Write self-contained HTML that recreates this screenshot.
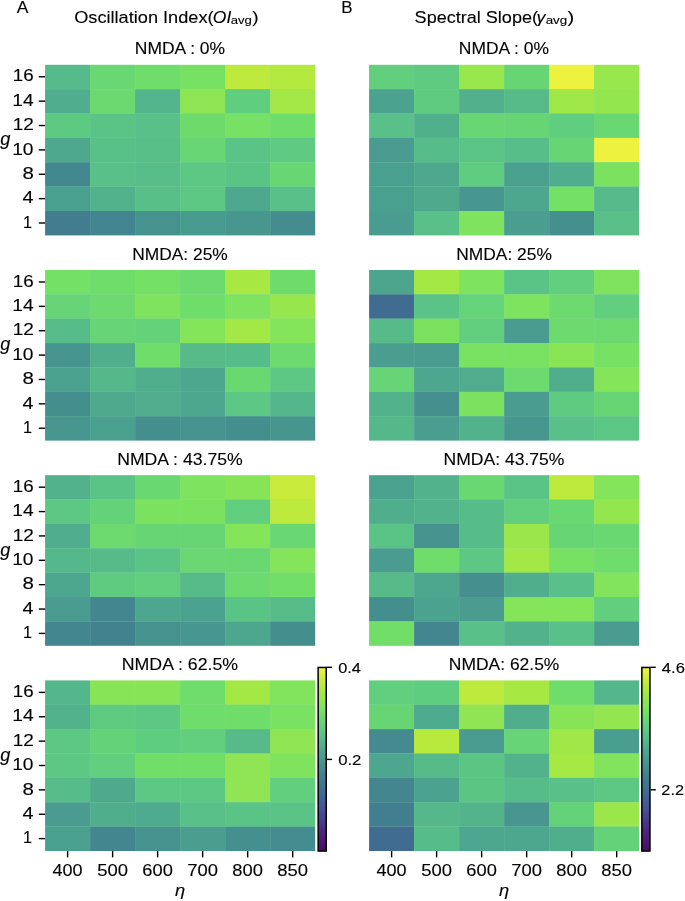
<!DOCTYPE html>
<html><head><meta charset="utf-8"><title>fig</title>
<style>html,body{margin:0;padding:0;background:#fff}svg{display:block}text{font-family:"Liberation Sans",sans-serif;fill:#000;stroke:#000;stroke-width:0.12px}</style></head><body>
<svg width="685" height="901" viewBox="0 0 685 901">
<rect x="0" y="0" width="685" height="901" fill="#fff"/>
<rect x="45.70" y="65.40" width="268.90" height="169.40" fill="#98dcb2"/>
<rect x="45.10" y="64.80" width="45.02" height="24.37" fill="#56bb8a"/>
<rect x="90.12" y="64.80" width="45.02" height="24.37" fill="#69d772"/>
<rect x="135.13" y="64.80" width="45.02" height="24.37" fill="#6fdd6a"/>
<rect x="180.15" y="64.80" width="45.02" height="24.37" fill="#76e163"/>
<rect x="225.17" y="64.80" width="45.02" height="24.37" fill="#bdea3c"/>
<rect x="270.18" y="64.80" width="45.02" height="24.37" fill="#b4e93f"/>
<rect x="45.10" y="89.17" width="45.02" height="24.37" fill="#50ad8d"/>
<rect x="90.12" y="89.17" width="45.02" height="24.37" fill="#6bd96f"/>
<rect x="135.13" y="89.17" width="45.02" height="24.37" fill="#53b58b"/>
<rect x="180.15" y="89.17" width="45.02" height="24.37" fill="#8ee553"/>
<rect x="225.17" y="89.17" width="45.02" height="24.37" fill="#60ce7f"/>
<rect x="270.18" y="89.17" width="45.02" height="24.37" fill="#a3e846"/>
<rect x="45.10" y="113.54" width="45.02" height="24.37" fill="#5dca82"/>
<rect x="90.12" y="113.54" width="45.02" height="24.37" fill="#5ac486"/>
<rect x="135.13" y="113.54" width="45.02" height="24.37" fill="#58c088"/>
<rect x="180.15" y="113.54" width="45.02" height="24.37" fill="#6ddb6c"/>
<rect x="225.17" y="113.54" width="45.02" height="24.37" fill="#76e164"/>
<rect x="270.18" y="113.54" width="45.02" height="24.37" fill="#6fdd69"/>
<rect x="45.10" y="137.91" width="45.02" height="24.37" fill="#4ea88d"/>
<rect x="90.12" y="137.91" width="45.02" height="24.37" fill="#58c187"/>
<rect x="135.13" y="137.91" width="45.02" height="24.37" fill="#58bf88"/>
<rect x="180.15" y="137.91" width="45.02" height="24.37" fill="#68d674"/>
<rect x="225.17" y="137.91" width="45.02" height="24.37" fill="#5ac386"/>
<rect x="270.18" y="137.91" width="45.02" height="24.37" fill="#5eca82"/>
<rect x="45.10" y="162.29" width="45.02" height="24.37" fill="#43878f"/>
<rect x="90.12" y="162.29" width="45.02" height="24.37" fill="#58c088"/>
<rect x="135.13" y="162.29" width="45.02" height="24.37" fill="#57bd89"/>
<rect x="180.15" y="162.29" width="45.02" height="24.37" fill="#5cc883"/>
<rect x="225.17" y="162.29" width="45.02" height="24.37" fill="#5ac485"/>
<rect x="270.18" y="162.29" width="45.02" height="24.37" fill="#68d673"/>
<rect x="45.10" y="186.66" width="45.02" height="24.37" fill="#4aa08e"/>
<rect x="90.12" y="186.66" width="45.02" height="24.37" fill="#52b28c"/>
<rect x="135.13" y="186.66" width="45.02" height="24.37" fill="#58bf88"/>
<rect x="180.15" y="186.66" width="45.02" height="24.37" fill="#5cc883"/>
<rect x="225.17" y="186.66" width="45.02" height="24.37" fill="#4ea88d"/>
<rect x="270.18" y="186.66" width="45.02" height="24.37" fill="#58c088"/>
<rect x="45.10" y="211.03" width="45.02" height="24.37" fill="#417c8f"/>
<rect x="90.12" y="211.03" width="45.02" height="24.37" fill="#42848f"/>
<rect x="135.13" y="211.03" width="45.02" height="24.37" fill="#46928e"/>
<rect x="180.15" y="211.03" width="45.02" height="24.37" fill="#489b8f"/>
<rect x="225.17" y="211.03" width="45.02" height="24.37" fill="#47978f"/>
<rect x="270.18" y="211.03" width="45.02" height="24.37" fill="#448c8e"/>
<rect x="369.70" y="65.40" width="268.90" height="169.40" fill="#98dcb2"/>
<rect x="369.10" y="64.80" width="45.02" height="24.37" fill="#61cf7e"/>
<rect x="414.12" y="64.80" width="45.02" height="24.37" fill="#5ecb81"/>
<rect x="459.13" y="64.80" width="45.02" height="24.37" fill="#98e74c"/>
<rect x="504.15" y="64.80" width="45.02" height="24.37" fill="#67d574"/>
<rect x="549.17" y="64.80" width="45.02" height="24.37" fill="#ecf23e"/>
<rect x="594.18" y="64.80" width="45.02" height="24.37" fill="#98e74c"/>
<rect x="369.10" y="89.17" width="45.02" height="24.37" fill="#4ba28e"/>
<rect x="414.12" y="89.17" width="45.02" height="24.37" fill="#5ecb81"/>
<rect x="459.13" y="89.17" width="45.02" height="24.37" fill="#52b18c"/>
<rect x="504.15" y="89.17" width="45.02" height="24.37" fill="#56bb89"/>
<rect x="549.17" y="89.17" width="45.02" height="24.37" fill="#a0e748"/>
<rect x="594.18" y="89.17" width="45.02" height="24.37" fill="#94e64f"/>
<rect x="369.10" y="113.54" width="45.02" height="24.37" fill="#58c088"/>
<rect x="414.12" y="113.54" width="45.02" height="24.37" fill="#51b08c"/>
<rect x="459.13" y="113.54" width="45.02" height="24.37" fill="#68d673"/>
<rect x="504.15" y="113.54" width="45.02" height="24.37" fill="#67d574"/>
<rect x="549.17" y="113.54" width="45.02" height="24.37" fill="#60ce7f"/>
<rect x="594.18" y="113.54" width="45.02" height="24.37" fill="#69d772"/>
<rect x="369.10" y="137.91" width="45.02" height="24.37" fill="#499c8f"/>
<rect x="414.12" y="137.91" width="45.02" height="24.37" fill="#56bc89"/>
<rect x="459.13" y="137.91" width="45.02" height="24.37" fill="#5bc585"/>
<rect x="504.15" y="137.91" width="45.02" height="24.37" fill="#57be89"/>
<rect x="549.17" y="137.91" width="45.02" height="24.37" fill="#67d574"/>
<rect x="594.18" y="137.91" width="45.02" height="24.37" fill="#ecf23e"/>
<rect x="369.10" y="162.29" width="45.02" height="24.37" fill="#4aa08e"/>
<rect x="414.12" y="162.29" width="45.02" height="24.37" fill="#4ea88d"/>
<rect x="459.13" y="162.29" width="45.02" height="24.37" fill="#5fcd7f"/>
<rect x="504.15" y="162.29" width="45.02" height="24.37" fill="#4aa08e"/>
<rect x="549.17" y="162.29" width="45.02" height="24.37" fill="#50ad8d"/>
<rect x="594.18" y="162.29" width="45.02" height="24.37" fill="#7be260"/>
<rect x="369.10" y="186.66" width="45.02" height="24.37" fill="#4aa08e"/>
<rect x="414.12" y="186.66" width="45.02" height="24.37" fill="#4ea98d"/>
<rect x="459.13" y="186.66" width="45.02" height="24.37" fill="#47968f"/>
<rect x="504.15" y="186.66" width="45.02" height="24.37" fill="#4da68e"/>
<rect x="549.17" y="186.66" width="45.02" height="24.37" fill="#74e065"/>
<rect x="594.18" y="186.66" width="45.02" height="24.37" fill="#56ba8a"/>
<rect x="369.10" y="211.03" width="45.02" height="24.37" fill="#499c8f"/>
<rect x="414.12" y="211.03" width="45.02" height="24.37" fill="#58c088"/>
<rect x="459.13" y="211.03" width="45.02" height="24.37" fill="#80e35d"/>
<rect x="504.15" y="211.03" width="45.02" height="24.37" fill="#4a9e8f"/>
<rect x="549.17" y="211.03" width="45.02" height="24.37" fill="#45908e"/>
<rect x="594.18" y="211.03" width="45.02" height="24.37" fill="#58c088"/>
<line x1="38.80" y1="76.79" x2="45.10" y2="76.79" stroke="#000" stroke-width="1.4"/>
<line x1="38.80" y1="101.16" x2="45.10" y2="101.16" stroke="#000" stroke-width="1.4"/>
<line x1="38.80" y1="125.53" x2="45.10" y2="125.53" stroke="#000" stroke-width="1.4"/>
<line x1="38.80" y1="149.90" x2="45.10" y2="149.90" stroke="#000" stroke-width="1.4"/>
<line x1="38.80" y1="174.27" x2="45.10" y2="174.27" stroke="#000" stroke-width="1.4"/>
<line x1="38.80" y1="198.64" x2="45.10" y2="198.64" stroke="#000" stroke-width="1.4"/>
<line x1="38.80" y1="223.01" x2="45.10" y2="223.01" stroke="#000" stroke-width="1.4"/>
<rect x="45.70" y="270.60" width="268.90" height="169.40" fill="#98dcb2"/>
<rect x="45.10" y="270.00" width="45.02" height="24.37" fill="#74e065"/>
<rect x="90.12" y="270.00" width="45.02" height="24.37" fill="#6fdd69"/>
<rect x="135.13" y="270.00" width="45.02" height="24.37" fill="#74e065"/>
<rect x="180.15" y="270.00" width="45.02" height="24.37" fill="#6cda6e"/>
<rect x="225.17" y="270.00" width="45.02" height="24.37" fill="#a8e843"/>
<rect x="270.18" y="270.00" width="45.02" height="24.37" fill="#6edc6b"/>
<rect x="45.10" y="294.37" width="45.02" height="24.37" fill="#66d477"/>
<rect x="90.12" y="294.37" width="45.02" height="24.37" fill="#6cda6e"/>
<rect x="135.13" y="294.37" width="45.02" height="24.37" fill="#7fe35e"/>
<rect x="180.15" y="294.37" width="45.02" height="24.37" fill="#6fdd69"/>
<rect x="225.17" y="294.37" width="45.02" height="24.37" fill="#7ee35f"/>
<rect x="270.18" y="294.37" width="45.02" height="24.37" fill="#97e64d"/>
<rect x="45.10" y="318.74" width="45.02" height="24.37" fill="#56bc89"/>
<rect x="90.12" y="318.74" width="45.02" height="24.37" fill="#66d477"/>
<rect x="135.13" y="318.74" width="45.02" height="24.37" fill="#64d279"/>
<rect x="180.15" y="318.74" width="45.02" height="24.37" fill="#84e45a"/>
<rect x="225.17" y="318.74" width="45.02" height="24.37" fill="#a2e846"/>
<rect x="270.18" y="318.74" width="45.02" height="24.37" fill="#84e45a"/>
<rect x="45.10" y="343.11" width="45.02" height="24.37" fill="#47958f"/>
<rect x="90.12" y="343.11" width="45.02" height="24.37" fill="#50ae8d"/>
<rect x="135.13" y="343.11" width="45.02" height="24.37" fill="#6fdd69"/>
<rect x="180.15" y="343.11" width="45.02" height="24.37" fill="#56bb89"/>
<rect x="225.17" y="343.11" width="45.02" height="24.37" fill="#56bc89"/>
<rect x="270.18" y="343.11" width="45.02" height="24.37" fill="#6cda6e"/>
<rect x="45.10" y="367.49" width="45.02" height="24.37" fill="#4ba28e"/>
<rect x="90.12" y="367.49" width="45.02" height="24.37" fill="#54b88a"/>
<rect x="135.13" y="367.49" width="45.02" height="24.37" fill="#50ae8d"/>
<rect x="180.15" y="367.49" width="45.02" height="24.37" fill="#4da78e"/>
<rect x="225.17" y="367.49" width="45.02" height="24.37" fill="#6ad870"/>
<rect x="270.18" y="367.49" width="45.02" height="24.37" fill="#5cc883"/>
<rect x="45.10" y="391.86" width="45.02" height="24.37" fill="#458e8e"/>
<rect x="90.12" y="391.86" width="45.02" height="24.37" fill="#4ea98d"/>
<rect x="135.13" y="391.86" width="45.02" height="24.37" fill="#50ac8d"/>
<rect x="180.15" y="391.86" width="45.02" height="24.37" fill="#4da78e"/>
<rect x="225.17" y="391.86" width="45.02" height="24.37" fill="#5cc784"/>
<rect x="270.18" y="391.86" width="45.02" height="24.37" fill="#54b68b"/>
<rect x="45.10" y="416.23" width="45.02" height="24.37" fill="#47968f"/>
<rect x="90.12" y="416.23" width="45.02" height="24.37" fill="#4aa08e"/>
<rect x="135.13" y="416.23" width="45.02" height="24.37" fill="#458e8e"/>
<rect x="180.15" y="416.23" width="45.02" height="24.37" fill="#46928e"/>
<rect x="225.17" y="416.23" width="45.02" height="24.37" fill="#458e8e"/>
<rect x="270.18" y="416.23" width="45.02" height="24.37" fill="#47958f"/>
<rect x="369.70" y="270.60" width="268.90" height="169.40" fill="#98dcb2"/>
<rect x="369.10" y="270.00" width="45.02" height="24.37" fill="#4da58e"/>
<rect x="414.12" y="270.00" width="45.02" height="24.37" fill="#a4e845"/>
<rect x="459.13" y="270.00" width="45.02" height="24.37" fill="#7ee35f"/>
<rect x="504.15" y="270.00" width="45.02" height="24.37" fill="#5ac486"/>
<rect x="549.17" y="270.00" width="45.02" height="24.37" fill="#61cf7d"/>
<rect x="594.18" y="270.00" width="45.02" height="24.37" fill="#80e35d"/>
<rect x="369.10" y="294.37" width="45.02" height="24.37" fill="#406c91"/>
<rect x="414.12" y="294.37" width="45.02" height="24.37" fill="#5ac386"/>
<rect x="459.13" y="294.37" width="45.02" height="24.37" fill="#65d377"/>
<rect x="504.15" y="294.37" width="45.02" height="24.37" fill="#7ee35f"/>
<rect x="549.17" y="294.37" width="45.02" height="24.37" fill="#6cda6e"/>
<rect x="594.18" y="294.37" width="45.02" height="24.37" fill="#61cf7d"/>
<rect x="369.10" y="318.74" width="45.02" height="24.37" fill="#56bb89"/>
<rect x="414.12" y="318.74" width="45.02" height="24.37" fill="#7be260"/>
<rect x="459.13" y="318.74" width="45.02" height="24.37" fill="#61cf7d"/>
<rect x="504.15" y="318.74" width="45.02" height="24.37" fill="#499c8f"/>
<rect x="549.17" y="318.74" width="45.02" height="24.37" fill="#6cda6e"/>
<rect x="594.18" y="318.74" width="45.02" height="24.37" fill="#6cda6e"/>
<rect x="369.10" y="343.11" width="45.02" height="24.37" fill="#4a9e8f"/>
<rect x="414.12" y="343.11" width="45.02" height="24.37" fill="#499c8f"/>
<rect x="459.13" y="343.11" width="45.02" height="24.37" fill="#79e262"/>
<rect x="504.15" y="343.11" width="45.02" height="24.37" fill="#79e262"/>
<rect x="549.17" y="343.11" width="45.02" height="24.37" fill="#8ae556"/>
<rect x="594.18" y="343.11" width="45.02" height="24.37" fill="#76e163"/>
<rect x="369.10" y="367.49" width="45.02" height="24.37" fill="#66d477"/>
<rect x="414.12" y="367.49" width="45.02" height="24.37" fill="#4da78e"/>
<rect x="459.13" y="367.49" width="45.02" height="24.37" fill="#50ac8d"/>
<rect x="504.15" y="367.49" width="45.02" height="24.37" fill="#6cda6e"/>
<rect x="549.17" y="367.49" width="45.02" height="24.37" fill="#50ae8d"/>
<rect x="594.18" y="367.49" width="45.02" height="24.37" fill="#84e45a"/>
<rect x="369.10" y="391.86" width="45.02" height="24.37" fill="#52b28c"/>
<rect x="414.12" y="391.86" width="45.02" height="24.37" fill="#45908e"/>
<rect x="459.13" y="391.86" width="45.02" height="24.37" fill="#7be260"/>
<rect x="504.15" y="391.86" width="45.02" height="24.37" fill="#499c8f"/>
<rect x="549.17" y="391.86" width="45.02" height="24.37" fill="#5ecb81"/>
<rect x="594.18" y="391.86" width="45.02" height="24.37" fill="#67d574"/>
<rect x="369.10" y="416.23" width="45.02" height="24.37" fill="#54b88a"/>
<rect x="414.12" y="416.23" width="45.02" height="24.37" fill="#4a9e8f"/>
<rect x="459.13" y="416.23" width="45.02" height="24.37" fill="#52b28c"/>
<rect x="504.15" y="416.23" width="45.02" height="24.37" fill="#47968f"/>
<rect x="549.17" y="416.23" width="45.02" height="24.37" fill="#58c088"/>
<rect x="594.18" y="416.23" width="45.02" height="24.37" fill="#5cc784"/>
<line x1="38.80" y1="281.99" x2="45.10" y2="281.99" stroke="#000" stroke-width="1.4"/>
<line x1="38.80" y1="306.36" x2="45.10" y2="306.36" stroke="#000" stroke-width="1.4"/>
<line x1="38.80" y1="330.73" x2="45.10" y2="330.73" stroke="#000" stroke-width="1.4"/>
<line x1="38.80" y1="355.10" x2="45.10" y2="355.10" stroke="#000" stroke-width="1.4"/>
<line x1="38.80" y1="379.47" x2="45.10" y2="379.47" stroke="#000" stroke-width="1.4"/>
<line x1="38.80" y1="403.84" x2="45.10" y2="403.84" stroke="#000" stroke-width="1.4"/>
<line x1="38.80" y1="428.21" x2="45.10" y2="428.21" stroke="#000" stroke-width="1.4"/>
<rect x="45.70" y="475.80" width="268.90" height="169.40" fill="#98dcb2"/>
<rect x="45.10" y="475.20" width="45.02" height="24.37" fill="#52b28c"/>
<rect x="90.12" y="475.20" width="45.02" height="24.37" fill="#5ac386"/>
<rect x="135.13" y="475.20" width="45.02" height="24.37" fill="#6ad870"/>
<rect x="180.15" y="475.20" width="45.02" height="24.37" fill="#7ee35f"/>
<rect x="225.17" y="475.20" width="45.02" height="24.37" fill="#88e457"/>
<rect x="270.18" y="475.20" width="45.02" height="24.37" fill="#c9ec3c"/>
<rect x="45.10" y="499.57" width="45.02" height="24.37" fill="#5cc883"/>
<rect x="90.12" y="499.57" width="45.02" height="24.37" fill="#64d279"/>
<rect x="135.13" y="499.57" width="45.02" height="24.37" fill="#7be260"/>
<rect x="180.15" y="499.57" width="45.02" height="24.37" fill="#7be260"/>
<rect x="225.17" y="499.57" width="45.02" height="24.37" fill="#61cf7d"/>
<rect x="270.18" y="499.57" width="45.02" height="24.37" fill="#bdea3c"/>
<rect x="45.10" y="523.94" width="45.02" height="24.37" fill="#50ad8d"/>
<rect x="90.12" y="523.94" width="45.02" height="24.37" fill="#6cda6e"/>
<rect x="135.13" y="523.94" width="45.02" height="24.37" fill="#67d574"/>
<rect x="180.15" y="523.94" width="45.02" height="24.37" fill="#67d574"/>
<rect x="225.17" y="523.94" width="45.02" height="24.37" fill="#84e45a"/>
<rect x="270.18" y="523.94" width="45.02" height="24.37" fill="#69d772"/>
<rect x="45.10" y="548.31" width="45.02" height="24.37" fill="#54b88a"/>
<rect x="90.12" y="548.31" width="45.02" height="24.37" fill="#56bb89"/>
<rect x="135.13" y="548.31" width="45.02" height="24.37" fill="#5ac386"/>
<rect x="180.15" y="548.31" width="45.02" height="24.37" fill="#69d772"/>
<rect x="225.17" y="548.31" width="45.02" height="24.37" fill="#6ad870"/>
<rect x="270.18" y="548.31" width="45.02" height="24.37" fill="#84e45a"/>
<rect x="45.10" y="572.69" width="45.02" height="24.37" fill="#4da78e"/>
<rect x="90.12" y="572.69" width="45.02" height="24.37" fill="#5ecb81"/>
<rect x="135.13" y="572.69" width="45.02" height="24.37" fill="#61cf7d"/>
<rect x="180.15" y="572.69" width="45.02" height="24.37" fill="#56bb89"/>
<rect x="225.17" y="572.69" width="45.02" height="24.37" fill="#6cda6e"/>
<rect x="270.18" y="572.69" width="45.02" height="24.37" fill="#71df67"/>
<rect x="45.10" y="597.06" width="45.02" height="24.37" fill="#499c8f"/>
<rect x="90.12" y="597.06" width="45.02" height="24.37" fill="#43868f"/>
<rect x="135.13" y="597.06" width="45.02" height="24.37" fill="#4da68e"/>
<rect x="180.15" y="597.06" width="45.02" height="24.37" fill="#4ba28e"/>
<rect x="225.17" y="597.06" width="45.02" height="24.37" fill="#5ac386"/>
<rect x="270.18" y="597.06" width="45.02" height="24.37" fill="#56bc89"/>
<rect x="45.10" y="621.43" width="45.02" height="24.37" fill="#43868f"/>
<rect x="90.12" y="621.43" width="45.02" height="24.37" fill="#42828f"/>
<rect x="135.13" y="621.43" width="45.02" height="24.37" fill="#46928e"/>
<rect x="180.15" y="621.43" width="45.02" height="24.37" fill="#47968f"/>
<rect x="225.17" y="621.43" width="45.02" height="24.37" fill="#4da78e"/>
<rect x="270.18" y="621.43" width="45.02" height="24.37" fill="#458e8e"/>
<rect x="369.70" y="475.80" width="268.90" height="169.40" fill="#98dcb2"/>
<rect x="369.10" y="475.20" width="45.02" height="24.37" fill="#4ba28e"/>
<rect x="414.12" y="475.20" width="45.02" height="24.37" fill="#52b28c"/>
<rect x="459.13" y="475.20" width="45.02" height="24.37" fill="#6ad870"/>
<rect x="504.15" y="475.20" width="45.02" height="24.37" fill="#5ac386"/>
<rect x="549.17" y="475.20" width="45.02" height="24.37" fill="#bdea3c"/>
<rect x="594.18" y="475.20" width="45.02" height="24.37" fill="#84e45a"/>
<rect x="369.10" y="499.57" width="45.02" height="24.37" fill="#50ae8d"/>
<rect x="414.12" y="499.57" width="45.02" height="24.37" fill="#52b28c"/>
<rect x="459.13" y="499.57" width="45.02" height="24.37" fill="#56bc89"/>
<rect x="504.15" y="499.57" width="45.02" height="24.37" fill="#61cf7d"/>
<rect x="549.17" y="499.57" width="45.02" height="24.37" fill="#6ad870"/>
<rect x="594.18" y="499.57" width="45.02" height="24.37" fill="#94e64f"/>
<rect x="369.10" y="523.94" width="45.02" height="24.37" fill="#5ac386"/>
<rect x="414.12" y="523.94" width="45.02" height="24.37" fill="#46928e"/>
<rect x="459.13" y="523.94" width="45.02" height="24.37" fill="#56bc89"/>
<rect x="504.15" y="523.94" width="45.02" height="24.37" fill="#9be74b"/>
<rect x="549.17" y="523.94" width="45.02" height="24.37" fill="#67d574"/>
<rect x="594.18" y="523.94" width="45.02" height="24.37" fill="#6ad870"/>
<rect x="369.10" y="548.31" width="45.02" height="24.37" fill="#499c8f"/>
<rect x="414.12" y="548.31" width="45.02" height="24.37" fill="#6fdd69"/>
<rect x="459.13" y="548.31" width="45.02" height="24.37" fill="#5cc883"/>
<rect x="504.15" y="548.31" width="45.02" height="24.37" fill="#a4e845"/>
<rect x="549.17" y="548.31" width="45.02" height="24.37" fill="#76e163"/>
<rect x="594.18" y="548.31" width="45.02" height="24.37" fill="#6fdd69"/>
<rect x="369.10" y="572.69" width="45.02" height="24.37" fill="#56bb89"/>
<rect x="414.12" y="572.69" width="45.02" height="24.37" fill="#4da68e"/>
<rect x="459.13" y="572.69" width="45.02" height="24.37" fill="#45908e"/>
<rect x="504.15" y="572.69" width="45.02" height="24.37" fill="#50ae8d"/>
<rect x="549.17" y="572.69" width="45.02" height="24.37" fill="#58c088"/>
<rect x="594.18" y="572.69" width="45.02" height="24.37" fill="#82e35c"/>
<rect x="369.10" y="597.06" width="45.02" height="24.37" fill="#458e8e"/>
<rect x="414.12" y="597.06" width="45.02" height="24.37" fill="#4ba28e"/>
<rect x="459.13" y="597.06" width="45.02" height="24.37" fill="#499c8f"/>
<rect x="504.15" y="597.06" width="45.02" height="24.37" fill="#84e45a"/>
<rect x="549.17" y="597.06" width="45.02" height="24.37" fill="#84e45a"/>
<rect x="594.18" y="597.06" width="45.02" height="24.37" fill="#61cf7d"/>
<rect x="369.10" y="621.43" width="45.02" height="24.37" fill="#71df67"/>
<rect x="414.12" y="621.43" width="45.02" height="24.37" fill="#43868f"/>
<rect x="459.13" y="621.43" width="45.02" height="24.37" fill="#58c088"/>
<rect x="504.15" y="621.43" width="45.02" height="24.37" fill="#52b28c"/>
<rect x="549.17" y="621.43" width="45.02" height="24.37" fill="#58c088"/>
<rect x="594.18" y="621.43" width="45.02" height="24.37" fill="#499c8f"/>
<line x1="38.80" y1="487.19" x2="45.10" y2="487.19" stroke="#000" stroke-width="1.4"/>
<line x1="38.80" y1="511.56" x2="45.10" y2="511.56" stroke="#000" stroke-width="1.4"/>
<line x1="38.80" y1="535.93" x2="45.10" y2="535.93" stroke="#000" stroke-width="1.4"/>
<line x1="38.80" y1="560.30" x2="45.10" y2="560.30" stroke="#000" stroke-width="1.4"/>
<line x1="38.80" y1="584.67" x2="45.10" y2="584.67" stroke="#000" stroke-width="1.4"/>
<line x1="38.80" y1="609.04" x2="45.10" y2="609.04" stroke="#000" stroke-width="1.4"/>
<line x1="38.80" y1="633.41" x2="45.10" y2="633.41" stroke="#000" stroke-width="1.4"/>
<rect x="45.70" y="681.00" width="268.90" height="169.40" fill="#98dcb2"/>
<rect x="45.10" y="680.40" width="45.02" height="24.37" fill="#54b78b"/>
<rect x="90.12" y="680.40" width="45.02" height="24.37" fill="#88e457"/>
<rect x="135.13" y="680.40" width="45.02" height="24.37" fill="#88e457"/>
<rect x="180.15" y="680.40" width="45.02" height="24.37" fill="#6fdd69"/>
<rect x="225.17" y="680.40" width="45.02" height="24.37" fill="#a4e845"/>
<rect x="270.18" y="680.40" width="45.02" height="24.37" fill="#82e35c"/>
<rect x="45.10" y="704.77" width="45.02" height="24.37" fill="#52b28c"/>
<rect x="90.12" y="704.77" width="45.02" height="24.37" fill="#5ecb81"/>
<rect x="135.13" y="704.77" width="45.02" height="24.37" fill="#5cc883"/>
<rect x="180.15" y="704.77" width="45.02" height="24.37" fill="#6fdd69"/>
<rect x="225.17" y="704.77" width="45.02" height="24.37" fill="#6fdd69"/>
<rect x="270.18" y="704.77" width="45.02" height="24.37" fill="#79e262"/>
<rect x="45.10" y="729.14" width="45.02" height="24.37" fill="#5cc883"/>
<rect x="90.12" y="729.14" width="45.02" height="24.37" fill="#64d279"/>
<rect x="135.13" y="729.14" width="45.02" height="24.37" fill="#5fcd7f"/>
<rect x="180.15" y="729.14" width="45.02" height="24.37" fill="#61cf7d"/>
<rect x="225.17" y="729.14" width="45.02" height="24.37" fill="#56bb89"/>
<rect x="270.18" y="729.14" width="45.02" height="24.37" fill="#8fe553"/>
<rect x="45.10" y="753.51" width="45.02" height="24.37" fill="#5cc883"/>
<rect x="90.12" y="753.51" width="45.02" height="24.37" fill="#61cf7d"/>
<rect x="135.13" y="753.51" width="45.02" height="24.37" fill="#71df67"/>
<rect x="180.15" y="753.51" width="45.02" height="24.37" fill="#71df67"/>
<rect x="225.17" y="753.51" width="45.02" height="24.37" fill="#8fe553"/>
<rect x="270.18" y="753.51" width="45.02" height="24.37" fill="#80e35d"/>
<rect x="45.10" y="777.89" width="45.02" height="24.37" fill="#56bc89"/>
<rect x="90.12" y="777.89" width="45.02" height="24.37" fill="#4faa8d"/>
<rect x="135.13" y="777.89" width="45.02" height="24.37" fill="#5cc883"/>
<rect x="180.15" y="777.89" width="45.02" height="24.37" fill="#5cc883"/>
<rect x="225.17" y="777.89" width="45.02" height="24.37" fill="#8fe553"/>
<rect x="270.18" y="777.89" width="45.02" height="24.37" fill="#61cf7d"/>
<rect x="45.10" y="802.26" width="45.02" height="24.37" fill="#499c8f"/>
<rect x="90.12" y="802.26" width="45.02" height="24.37" fill="#50ae8d"/>
<rect x="135.13" y="802.26" width="45.02" height="24.37" fill="#4fab8d"/>
<rect x="180.15" y="802.26" width="45.02" height="24.37" fill="#58c088"/>
<rect x="225.17" y="802.26" width="45.02" height="24.37" fill="#5ac386"/>
<rect x="270.18" y="802.26" width="45.02" height="24.37" fill="#5ac386"/>
<rect x="45.10" y="826.63" width="45.02" height="24.37" fill="#4aa08e"/>
<rect x="90.12" y="826.63" width="45.02" height="24.37" fill="#43868f"/>
<rect x="135.13" y="826.63" width="45.02" height="24.37" fill="#46928e"/>
<rect x="180.15" y="826.63" width="45.02" height="24.37" fill="#4a9e8f"/>
<rect x="225.17" y="826.63" width="45.02" height="24.37" fill="#45908e"/>
<rect x="270.18" y="826.63" width="45.02" height="24.37" fill="#448c8e"/>
<rect x="369.70" y="681.00" width="268.90" height="169.40" fill="#98dcb2"/>
<rect x="369.10" y="680.40" width="45.02" height="24.37" fill="#61cf7d"/>
<rect x="414.12" y="680.40" width="45.02" height="24.37" fill="#5fcd7f"/>
<rect x="459.13" y="680.40" width="45.02" height="24.37" fill="#bdea3c"/>
<rect x="504.15" y="680.40" width="45.02" height="24.37" fill="#a8e843"/>
<rect x="549.17" y="680.40" width="45.02" height="24.37" fill="#6fdd69"/>
<rect x="594.18" y="680.40" width="45.02" height="24.37" fill="#54b78b"/>
<rect x="369.10" y="704.77" width="45.02" height="24.37" fill="#67d574"/>
<rect x="414.12" y="704.77" width="45.02" height="24.37" fill="#4fab8d"/>
<rect x="459.13" y="704.77" width="45.02" height="24.37" fill="#8fe553"/>
<rect x="504.15" y="704.77" width="45.02" height="24.37" fill="#50ae8d"/>
<rect x="549.17" y="704.77" width="45.02" height="24.37" fill="#88e457"/>
<rect x="594.18" y="704.77" width="45.02" height="24.37" fill="#93e64f"/>
<rect x="369.10" y="729.14" width="45.02" height="24.37" fill="#448a8e"/>
<rect x="414.12" y="729.14" width="45.02" height="24.37" fill="#b8ea3d"/>
<rect x="459.13" y="729.14" width="45.02" height="24.37" fill="#499c8f"/>
<rect x="504.15" y="729.14" width="45.02" height="24.37" fill="#66d477"/>
<rect x="549.17" y="729.14" width="45.02" height="24.37" fill="#a0e748"/>
<rect x="594.18" y="729.14" width="45.02" height="24.37" fill="#4a9e8f"/>
<rect x="369.10" y="753.51" width="45.02" height="24.37" fill="#4da78e"/>
<rect x="414.12" y="753.51" width="45.02" height="24.37" fill="#56bb89"/>
<rect x="459.13" y="753.51" width="45.02" height="24.37" fill="#5bc684"/>
<rect x="504.15" y="753.51" width="45.02" height="24.37" fill="#52b28c"/>
<rect x="549.17" y="753.51" width="45.02" height="24.37" fill="#a6e844"/>
<rect x="594.18" y="753.51" width="45.02" height="24.37" fill="#82e35c"/>
<rect x="369.10" y="777.89" width="45.02" height="24.37" fill="#43868f"/>
<rect x="414.12" y="777.89" width="45.02" height="24.37" fill="#4ba28e"/>
<rect x="459.13" y="777.89" width="45.02" height="24.37" fill="#5bc684"/>
<rect x="504.15" y="777.89" width="45.02" height="24.37" fill="#56bc89"/>
<rect x="549.17" y="777.89" width="45.02" height="24.37" fill="#58c088"/>
<rect x="594.18" y="777.89" width="45.02" height="24.37" fill="#5cc883"/>
<rect x="369.10" y="802.26" width="45.02" height="24.37" fill="#417e8f"/>
<rect x="414.12" y="802.26" width="45.02" height="24.37" fill="#54b88a"/>
<rect x="459.13" y="802.26" width="45.02" height="24.37" fill="#53b48b"/>
<rect x="504.15" y="802.26" width="45.02" height="24.37" fill="#47968f"/>
<rect x="549.17" y="802.26" width="45.02" height="24.37" fill="#64d279"/>
<rect x="594.18" y="802.26" width="45.02" height="24.37" fill="#9be74b"/>
<rect x="369.10" y="826.63" width="45.02" height="24.37" fill="#406c91"/>
<rect x="414.12" y="826.63" width="45.02" height="24.37" fill="#56bc89"/>
<rect x="459.13" y="826.63" width="45.02" height="24.37" fill="#4da78e"/>
<rect x="504.15" y="826.63" width="45.02" height="24.37" fill="#4da78e"/>
<rect x="549.17" y="826.63" width="45.02" height="24.37" fill="#50ae8d"/>
<rect x="594.18" y="826.63" width="45.02" height="24.37" fill="#64d279"/>
<line x1="38.80" y1="692.39" x2="45.10" y2="692.39" stroke="#000" stroke-width="1.4"/>
<line x1="38.80" y1="716.76" x2="45.10" y2="716.76" stroke="#000" stroke-width="1.4"/>
<line x1="38.80" y1="741.13" x2="45.10" y2="741.13" stroke="#000" stroke-width="1.4"/>
<line x1="38.80" y1="765.50" x2="45.10" y2="765.50" stroke="#000" stroke-width="1.4"/>
<line x1="38.80" y1="789.87" x2="45.10" y2="789.87" stroke="#000" stroke-width="1.4"/>
<line x1="38.80" y1="814.24" x2="45.10" y2="814.24" stroke="#000" stroke-width="1.4"/>
<line x1="38.80" y1="838.61" x2="45.10" y2="838.61" stroke="#000" stroke-width="1.4"/>
<line x1="67.61" y1="851.00" x2="67.61" y2="857.40" stroke="#000" stroke-width="1.4"/>
<line x1="112.62" y1="851.00" x2="112.62" y2="857.40" stroke="#000" stroke-width="1.4"/>
<line x1="157.64" y1="851.00" x2="157.64" y2="857.40" stroke="#000" stroke-width="1.4"/>
<line x1="202.66" y1="851.00" x2="202.66" y2="857.40" stroke="#000" stroke-width="1.4"/>
<line x1="247.68" y1="851.00" x2="247.68" y2="857.40" stroke="#000" stroke-width="1.4"/>
<line x1="292.69" y1="851.00" x2="292.69" y2="857.40" stroke="#000" stroke-width="1.4"/>
<line x1="391.61" y1="851.00" x2="391.61" y2="857.40" stroke="#000" stroke-width="1.4"/>
<line x1="436.62" y1="851.00" x2="436.62" y2="857.40" stroke="#000" stroke-width="1.4"/>
<line x1="481.64" y1="851.00" x2="481.64" y2="857.40" stroke="#000" stroke-width="1.4"/>
<line x1="526.66" y1="851.00" x2="526.66" y2="857.40" stroke="#000" stroke-width="1.4"/>
<line x1="571.68" y1="851.00" x2="571.68" y2="857.40" stroke="#000" stroke-width="1.4"/>
<line x1="616.69" y1="851.00" x2="616.69" y2="857.40" stroke="#000" stroke-width="1.4"/>
<defs><linearGradient id="vg" x1="0" y1="1" x2="0" y2="0">
<stop offset="0.000" stop-color="#4a1268"/>
<stop offset="0.033" stop-color="#4a146c"/>
<stop offset="0.076" stop-color="#4b1e78"/>
<stop offset="0.120" stop-color="#4a2a82"/>
<stop offset="0.163" stop-color="#483a8a"/>
<stop offset="0.207" stop-color="#454a92"/>
<stop offset="0.245" stop-color="#435898"/>
<stop offset="0.289" stop-color="#416294"/>
<stop offset="0.332" stop-color="#406e90"/>
<stop offset="0.376" stop-color="#40788f"/>
<stop offset="0.420" stop-color="#42838f"/>
<stop offset="0.463" stop-color="#458f8e"/>
<stop offset="0.500" stop-color="#489a8f"/>
<stop offset="0.540" stop-color="#4ca48e"/>
<stop offset="0.583" stop-color="#52b28c"/>
<stop offset="0.627" stop-color="#58c088"/>
<stop offset="0.670" stop-color="#5fcd80"/>
<stop offset="0.714" stop-color="#68d673"/>
<stop offset="0.752" stop-color="#72e066"/>
<stop offset="0.779" stop-color="#7fe35e"/>
<stop offset="0.823" stop-color="#92e650"/>
<stop offset="0.866" stop-color="#a6e844"/>
<stop offset="0.910" stop-color="#bcea3c"/>
<stop offset="0.954" stop-color="#d4ee3c"/>
<stop offset="1.000" stop-color="#eef23e"/>
</linearGradient></defs>
<rect x="318.15" y="667.45" width="8.1" height="183.6" fill="url(#vg)" stroke="#000" stroke-width="1.5"/>
<line x1="326.80" y1="667.30" x2="332.10" y2="667.30" stroke="#000" stroke-width="1.4"/>
<line x1="326.80" y1="759.40" x2="332.10" y2="759.40" stroke="#000" stroke-width="1.4"/>
<rect x="641.85" y="667.45" width="8.1" height="183.6" fill="url(#vg)" stroke="#000" stroke-width="1.5"/>
<line x1="650.50" y1="667.30" x2="655.80" y2="667.30" stroke="#000" stroke-width="1.4"/>
<line x1="650.50" y1="789.80" x2="655.80" y2="789.80" stroke="#000" stroke-width="1.4"/>
<g style="filter:grayscale(1)">
<text x="134.87" y="54.30" font-size="16.70" textLength="90.23" lengthAdjust="spacingAndGlyphs">NMDA : 0%</text>
<text x="458.86" y="54.30" font-size="16.70" textLength="90.16" lengthAdjust="spacingAndGlyphs">NMDA : 0%</text>
<text x="12.73" y="81.49" font-size="16.10" textLength="20.86" lengthAdjust="spacingAndGlyphs">16</text>
<text x="12.16" y="105.86" font-size="16.10" textLength="21.46" lengthAdjust="spacingAndGlyphs">14</text>
<text x="12.71" y="130.23" font-size="16.10" textLength="21.12" lengthAdjust="spacingAndGlyphs">12</text>
<text x="12.17" y="154.60" font-size="16.10" textLength="21.29" lengthAdjust="spacingAndGlyphs">10</text>
<text x="22.45" y="178.97" font-size="16.10" textLength="11.40" lengthAdjust="spacingAndGlyphs">8</text>
<text x="22.52" y="203.34" font-size="16.10" textLength="10.96" lengthAdjust="spacingAndGlyphs">4</text>
<text x="23.00" y="227.71" font-size="16.10" textLength="9.03" lengthAdjust="spacingAndGlyphs">1</text>
<text x="0.31" y="145.20" font-size="17.80" textLength="10.13" lengthAdjust="spacingAndGlyphs" font-style="italic">g</text>
<text x="132.25" y="259.50" font-size="16.70" textLength="95.53" lengthAdjust="spacingAndGlyphs">NMDA: 25%</text>
<text x="456.26" y="259.50" font-size="16.70" textLength="95.66" lengthAdjust="spacingAndGlyphs">NMDA: 25%</text>
<text x="12.73" y="286.69" font-size="16.10" textLength="20.86" lengthAdjust="spacingAndGlyphs">16</text>
<text x="12.16" y="311.06" font-size="16.10" textLength="21.46" lengthAdjust="spacingAndGlyphs">14</text>
<text x="12.71" y="335.43" font-size="16.10" textLength="21.12" lengthAdjust="spacingAndGlyphs">12</text>
<text x="12.17" y="359.80" font-size="16.10" textLength="21.29" lengthAdjust="spacingAndGlyphs">10</text>
<text x="22.45" y="384.17" font-size="16.10" textLength="11.40" lengthAdjust="spacingAndGlyphs">8</text>
<text x="22.52" y="408.54" font-size="16.10" textLength="10.96" lengthAdjust="spacingAndGlyphs">4</text>
<text x="23.00" y="432.91" font-size="16.10" textLength="9.03" lengthAdjust="spacingAndGlyphs">1</text>
<text x="0.31" y="350.40" font-size="17.80" textLength="10.13" lengthAdjust="spacingAndGlyphs" font-style="italic">g</text>
<text x="117.18" y="464.70" font-size="16.70" textLength="125.58" lengthAdjust="spacingAndGlyphs">NMDA : 43.75%</text>
<text x="443.55" y="464.70" font-size="16.70" textLength="120.92" lengthAdjust="spacingAndGlyphs">NMDA: 43.75%</text>
<text x="12.73" y="491.89" font-size="16.10" textLength="20.86" lengthAdjust="spacingAndGlyphs">16</text>
<text x="12.16" y="516.26" font-size="16.10" textLength="21.46" lengthAdjust="spacingAndGlyphs">14</text>
<text x="12.71" y="540.63" font-size="16.10" textLength="21.12" lengthAdjust="spacingAndGlyphs">12</text>
<text x="12.17" y="565.00" font-size="16.10" textLength="21.29" lengthAdjust="spacingAndGlyphs">10</text>
<text x="22.45" y="589.37" font-size="16.10" textLength="11.40" lengthAdjust="spacingAndGlyphs">8</text>
<text x="22.52" y="613.74" font-size="16.10" textLength="10.96" lengthAdjust="spacingAndGlyphs">4</text>
<text x="23.00" y="638.11" font-size="16.10" textLength="9.03" lengthAdjust="spacingAndGlyphs">1</text>
<text x="0.31" y="555.60" font-size="17.80" textLength="10.13" lengthAdjust="spacingAndGlyphs" font-style="italic">g</text>
<text x="121.79" y="669.90" font-size="16.70" textLength="116.34" lengthAdjust="spacingAndGlyphs">NMDA : 62.5%</text>
<text x="448.87" y="669.90" font-size="16.70" textLength="110.53" lengthAdjust="spacingAndGlyphs">NMDA: 62.5%</text>
<text x="12.73" y="697.09" font-size="16.10" textLength="20.86" lengthAdjust="spacingAndGlyphs">16</text>
<text x="12.16" y="721.46" font-size="16.10" textLength="21.46" lengthAdjust="spacingAndGlyphs">14</text>
<text x="12.71" y="745.83" font-size="16.10" textLength="21.12" lengthAdjust="spacingAndGlyphs">12</text>
<text x="12.17" y="770.20" font-size="16.10" textLength="21.29" lengthAdjust="spacingAndGlyphs">10</text>
<text x="22.45" y="794.57" font-size="16.10" textLength="11.40" lengthAdjust="spacingAndGlyphs">8</text>
<text x="22.52" y="818.94" font-size="16.10" textLength="10.96" lengthAdjust="spacingAndGlyphs">4</text>
<text x="23.00" y="843.31" font-size="16.10" textLength="9.03" lengthAdjust="spacingAndGlyphs">1</text>
<text x="0.31" y="760.80" font-size="17.80" textLength="10.13" lengthAdjust="spacingAndGlyphs" font-style="italic">g</text>
<text x="52.51" y="876.00" font-size="16.10" textLength="30.09" lengthAdjust="spacingAndGlyphs">400</text>
<text x="97.31" y="876.00" font-size="16.10" textLength="30.78" lengthAdjust="spacingAndGlyphs">500</text>
<text x="142.35" y="876.00" font-size="16.10" textLength="30.45" lengthAdjust="spacingAndGlyphs">600</text>
<text x="187.19" y="876.00" font-size="16.10" textLength="30.70" lengthAdjust="spacingAndGlyphs">700</text>
<text x="232.27" y="876.00" font-size="16.10" textLength="30.63" lengthAdjust="spacingAndGlyphs">800</text>
<text x="277.15" y="876.00" font-size="16.10" textLength="30.77" lengthAdjust="spacingAndGlyphs">850</text>
<text x="174.92" y="896.00" font-size="16.80" textLength="10.21" lengthAdjust="spacingAndGlyphs" font-style="italic">η</text>
<text x="376.51" y="876.00" font-size="16.10" textLength="30.09" lengthAdjust="spacingAndGlyphs">400</text>
<text x="421.31" y="876.00" font-size="16.10" textLength="30.78" lengthAdjust="spacingAndGlyphs">500</text>
<text x="466.35" y="876.00" font-size="16.10" textLength="30.45" lengthAdjust="spacingAndGlyphs">600</text>
<text x="511.19" y="876.00" font-size="16.10" textLength="30.70" lengthAdjust="spacingAndGlyphs">700</text>
<text x="556.27" y="876.00" font-size="16.10" textLength="30.63" lengthAdjust="spacingAndGlyphs">800</text>
<text x="601.15" y="876.00" font-size="16.10" textLength="30.77" lengthAdjust="spacingAndGlyphs">850</text>
<text x="498.92" y="896.00" font-size="16.80" textLength="10.21" lengthAdjust="spacingAndGlyphs" font-style="italic">η</text>
<text x="338.17" y="672.50" font-size="14.60" textLength="22.74" lengthAdjust="spacingAndGlyphs">0.4</text>
<text x="338.18" y="764.80" font-size="14.60" textLength="23.27" lengthAdjust="spacingAndGlyphs">0.2</text>
<text x="661.84" y="672.50" font-size="14.60" textLength="23.02" lengthAdjust="spacingAndGlyphs">4.6</text>
<text x="661.39" y="795.30" font-size="14.60" textLength="22.65" lengthAdjust="spacingAndGlyphs">2.2</text>
<text x="16.86" y="12.70" font-size="16.10" textLength="11.69" lengthAdjust="spacingAndGlyphs">A</text>
<text x="341.33" y="12.70" font-size="16.10" textLength="11.28" lengthAdjust="spacingAndGlyphs">B</text>
<text x="74.19" y="22.60" font-size="16.60" textLength="139.34" lengthAdjust="spacingAndGlyphs">Oscillation Index(</text>
<text x="212.89" y="22.60" font-size="16.60" textLength="18.43" lengthAdjust="spacingAndGlyphs" font-style="italic">OI</text>
<text x="230.71" y="24.20" font-size="11.60" textLength="21.10" lengthAdjust="spacingAndGlyphs">avg</text>
<text x="252.30" y="22.60" font-size="16.60" textLength="6.35" lengthAdjust="spacingAndGlyphs">)</text>
<text x="414.61" y="22.60" font-size="16.60" textLength="123.38" lengthAdjust="spacingAndGlyphs">Spectral Slope(</text>
<text x="536.53" y="22.60" font-size="16.60" textLength="9.01" lengthAdjust="spacingAndGlyphs" font-style="italic">γ</text>
<text x="545.67" y="24.20" font-size="11.60" textLength="21.56" lengthAdjust="spacingAndGlyphs">avg</text>
<text x="567.62" y="22.60" font-size="16.60" textLength="6.75" lengthAdjust="spacingAndGlyphs">)</text>
</g>
</svg></body></html>
